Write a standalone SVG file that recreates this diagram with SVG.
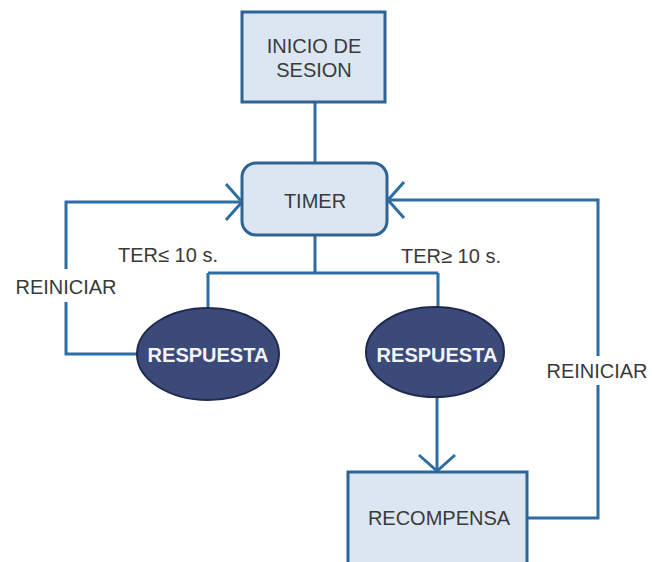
<svg xmlns="http://www.w3.org/2000/svg" width="652" height="562" viewBox="0 0 652 562">
<style>
.box{fill:#dce6f2;stroke:#2e6494;stroke-width:3}
.ell{fill:#3c4a7a;stroke:#1f2a4e;stroke-width:2}
.ln{fill:none;stroke:#2e6da4;stroke-width:3}
.t{font-family:"Liberation Sans",Arial,sans-serif;font-size:20px;fill:#3a3a3a;text-anchor:middle}
.w{font-family:"Liberation Sans",Arial,sans-serif;font-size:20px;font-weight:bold;fill:#f4f4f8;text-anchor:middle}
</style>
<rect width="652" height="562" fill="#ffffff"/>
<g id="connectors">
<path class="ln" d="M315 102 V163"/>
<path class="ln" d="M315 235 V273 M208 273 H438 M208 273 V308 M438 273 V307"/>
<path class="ln" d="M137 354 H66 V302 M66 269 V202 H241"/>
<path class="ln" d="M226 184 L242 202 L226 220"/>
<path class="ln" d="M527 518 H598 V385 M598 356 V200 H388"/>
<path class="ln" d="M404 182 L388 200 L404 218"/>
<path class="ln" d="M437 397 V471"/>
<path class="ln" d="M419 455 L437 471 L455 455"/>
</g>
<g id="inicio">
<rect class="box" x="242" y="12" width="143" height="90"/>
<text class="t" x="314" y="53">INICIO DE</text>
<text class="t" x="314" y="77">SESION</text>
</g>
<g id="timer">
<rect class="box" x="242" y="163" width="145" height="72" rx="14"/>
<text class="t" x="315" y="208">TIMER</text>
</g>
<g id="respuesta1">
<ellipse class="ell" cx="208" cy="354" rx="71" ry="46"/>
<text class="w" x="208" y="362">RESPUESTA</text>
</g>
<g id="respuesta2">
<ellipse class="ell" cx="435" cy="352" rx="69" ry="45"/>
<text class="w" x="437" y="362">RESPUESTA</text>
</g>
<g id="recompensa">
<rect class="box" x="348" y="472" width="179" height="100"/>
<text class="t" x="439" y="525">RECOMPENSA</text>
</g>
<g id="labels">
<text class="t" x="168" y="262">TER≤ 10 s.</text>
<text class="t" x="451" y="263">TER≥ 10 s.</text>
<text class="t" x="66" y="294">REINICIAR</text>
<text class="t" x="597" y="378">REINICIAR</text>
</g>
</svg>
